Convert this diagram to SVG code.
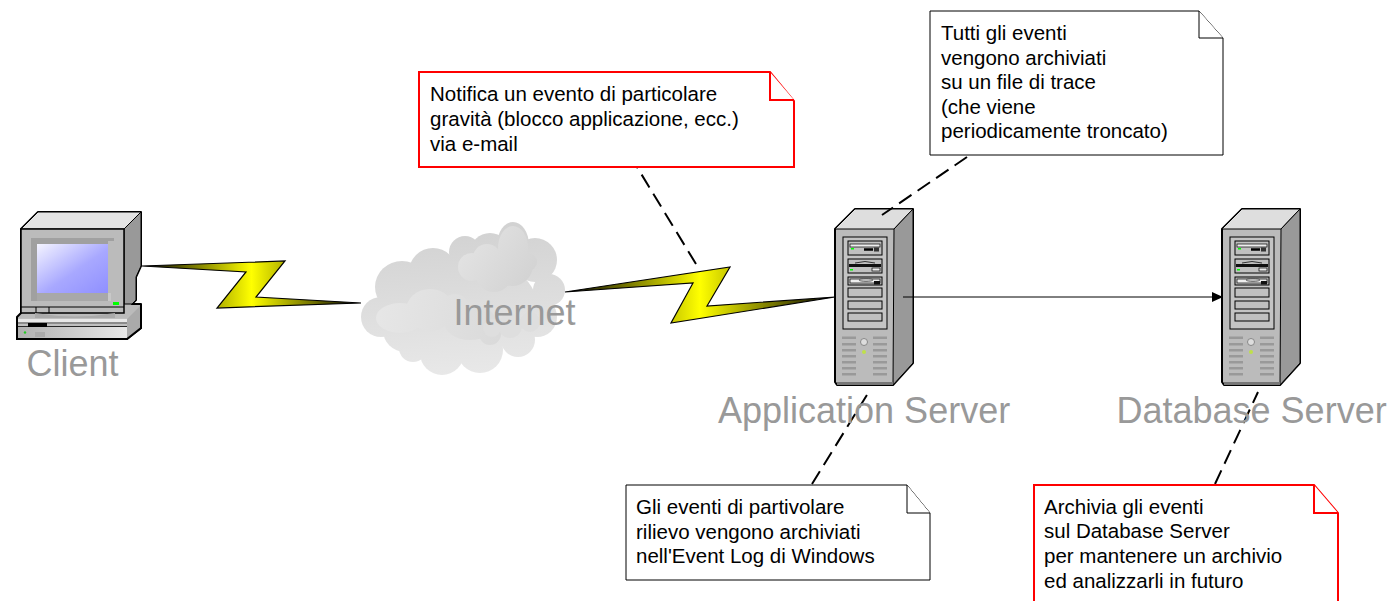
<svg xmlns="http://www.w3.org/2000/svg" xmlns:xlink="http://www.w3.org/1999/xlink" width="1391" height="601" viewBox="0 0 1391 601">
<style>
text{font-family:"Liberation Sans",Arial,sans-serif}
.lab{font-size:36px;fill:#999}
.nt{font-size:20.5px;fill:#000}
.note{fill:#fff;stroke:#000;stroke-width:1}
.red{stroke:#f00;stroke-width:2}
.dash{fill:none;stroke:#000;stroke-width:2;stroke-dasharray:15 7.4}
.bolt{fill:url(#boltG);stroke:#000;stroke-width:1.2;stroke-linejoin:miter}
.bay{fill:#c0c0c0;stroke:#000;stroke-width:1}
.vent{fill:#999}
</style>
<defs>
<linearGradient id="boltG" x1="0" x2="1" y1="0" y2="0"><stop offset="0" stop-color="#000"/><stop offset=".5" stop-color="#ff0"/><stop offset="1" stop-color="#000"/></linearGradient>
<linearGradient id="scr" x1="0" y1="0" x2="1" y2="1"><stop offset="0" stop-color="#f4f4ff"/><stop offset=".55" stop-color="#a8a8ff"/><stop offset="1" stop-color="#8f8fff"/></linearGradient>
<linearGradient id="base" x1="0" x2="1" y1="0" y2="0"><stop offset="0" stop-color="#b0b0b0"/><stop offset="1" stop-color="#e8e8e8"/></linearGradient>
<linearGradient id="clB" gradientUnits="userSpaceOnUse" x1="440" y1="230" x2="450" y2="375"><stop offset="0" stop-color="#d2d2d2"/><stop offset="1" stop-color="#e8e8e8"/></linearGradient>
<linearGradient id="clF" gradientUnits="userSpaceOnUse" x1="380" y1="310" x2="500" y2="330"><stop offset="0" stop-color="#e6e6e6"/><stop offset="1" stop-color="#dadada"/></linearGradient>
<linearGradient id="clT" gradientUnits="userSpaceOnUse" x1="465" y1="230" x2="535" y2="280"><stop offset="0" stop-color="#e4e4e4"/><stop offset="1" stop-color="#d2d2d2"/></linearGradient>
<g id="srv">
<path d="M835 229L855 209H913V363L893 385H837L835 382Z" fill="#bbb" stroke="#000" stroke-width="2" stroke-linejoin="round"/>
<path d="M835 229L855 209H913L894 229Z" fill="#dedede" stroke="#000" stroke-width="1"/>
<path d="M894 229L913 209V363L893 385Z" fill="#999" stroke="#000" stroke-width="1"/>
<path d="M837 382H893V385H837Z" fill="#777"/>
<rect x="843" y="237" width="44" height="92" fill="#c4c4c4" stroke="#000"/>
<rect x="848" y="241" width="34" height="14" class="bay" stroke-width="1.4"/>
<rect x="850" y="244" width="30" height="3" fill="#eee" stroke="#000" stroke-width=".7"/>
<path d="M864 249.500H873" stroke="#000" stroke-width="2.500"/><rect x="874" y="247.500" width="5" height="4" fill="#333"/><rect x="851" y="248" width="3" height="1.500" fill="#0f0"/>
<rect x="848" y="259" width="34" height="14" class="bay" stroke-width="1.4"/>
<rect x="849" y="264" width="32" height="3" fill="#111"/><path d="M855 263Q865 260 875 263" fill="none" stroke="#333"/><rect x="872" y="268" width="8" height="3" fill="#eee" stroke="#000" stroke-width=".7"/><rect x="850" y="269" width="3" height="1.500" fill="#0f0"/>
<rect x="848" y="277" width="34" height="8" class="bay" stroke-width="1.4"/>
<rect x="850" y="279" width="30" height="4" fill="#eee" stroke="#000" stroke-width=".7"/><ellipse cx="866" cy="280" rx="7" ry="1.500" fill="#bbb" stroke="#333" stroke-width=".6"/><rect x="874" y="281" width="6" height="3.500" fill="#111"/>
<rect x="848" y="288" width="34" height="9" class="bay"/>
<rect x="848" y="301" width="34" height="8" class="bay"/>
<rect x="848" y="313" width="34" height="8" class="bay"/>
<g class="vent">
<rect x="842" y="336.500" width="14" height="2.500"/><rect x="842" y="343" width="14" height="2.500"/><rect x="842" y="349" width="14" height="2.500"/><rect x="842" y="355" width="14" height="2.500"/><rect x="842" y="361" width="14" height="2.500"/><rect x="842" y="367" width="14" height="2.500"/><rect x="842" y="373" width="14" height="2.500"/>
<rect x="873" y="336.500" width="14" height="2.500"/><rect x="873" y="343" width="14" height="2.500"/><rect x="873" y="349" width="14" height="2.500"/><rect x="873" y="355" width="14" height="2.500"/><rect x="873" y="361" width="14" height="2.500"/><rect x="873" y="367" width="14" height="2.500"/><rect x="873" y="373" width="14" height="2.500"/>
</g>
<circle cx="864" cy="342" r="3.500" fill="#ddd" stroke="#888"/>
<circle cx="864" cy="352" r="2" fill="#bfe04a"/>
</g>
<marker id="arr" markerWidth="11" markerHeight="10" refX="10" refY="5" orient="auto" markerUnits="userSpaceOnUse"><path d="M0 0L11 5L0 10Z" fill="#000"/></marker>
</defs>

<g id="cloud">
<g fill="url(#clB)">
<ellipse cx="402" cy="287" rx="27" ry="26"/><circle cx="433" cy="272" r="24"/><circle cx="465" cy="252" r="16"/><circle cx="490" cy="253" r="20"/>
<ellipse cx="513" cy="245" rx="16" ry="23"/><circle cx="535" cy="260" r="22"/><circle cx="549" cy="290" r="16"/><circle cx="537" cy="317" r="20"/>
<circle cx="518" cy="340" r="17"/><circle cx="480" cy="350" r="23"/><circle cx="442" cy="353" r="22"/><circle cx="413" cy="348" r="14"/><circle cx="381" cy="317" r="20"/><circle cx="405" cy="330" r="22"/>
<ellipse cx="465" cy="305" rx="72" ry="48"/>
</g>
<g fill="url(#clF)">
<ellipse cx="400" cy="318" rx="24" ry="15"/><ellipse cx="430" cy="310" rx="24" ry="21"/><circle cx="455" cy="308" r="14"/><ellipse cx="470" cy="322" rx="26" ry="18"/><circle cx="490" cy="334" r="11"/>
</g>
<g fill="url(#clT)">
<circle cx="472" cy="267" r="14"/><circle cx="487" cy="258" r="14"/><ellipse cx="513" cy="248" rx="15" ry="22"/><circle cx="512" cy="265" r="21"/><circle cx="528" cy="262" r="9"/><circle cx="494" cy="274" r="18"/>
</g>
<g fill="#dedede">
<circle cx="510" cy="326" r="12"/><circle cx="530" cy="322" r="10"/><circle cx="492" cy="328" r="9"/>
</g>
</g>

<g id="client">
<path d="M21 229L38 212H141V266L136 277V300L132 304H141V328L127 339H17V317L21 313Z" fill="#bbb" stroke="#000" stroke-width="2" stroke-linejoin="round"/>
<path d="M21 229L38 212H141L124 229Z" fill="#e4e4e4" stroke="#000" stroke-width="1"/>
<path d="M124 229L141 212V266L136 277V300L132 304H124Z" fill="#999" stroke="#000" stroke-width="1"/>
<rect x="21" y="229" width="103" height="84" fill="#bbb" stroke="#000" stroke-width="1.500"/>
<path d="M31 238H114V241H108V293H37V301H31Z" fill="#a0a0a0"/><path d="M37 293H111V301H37Z" fill="#c8c8c8"/><path d="M31 301H37V293H108V301Z" fill="#a8a8a8"/>
<rect x="37" y="244" width="71" height="49" fill="url(#scr)"/>
<rect x="113" y="302" width="6" height="3" fill="#0f0"/>
<path d="M21 307H124M36 307V313M49 307V313" stroke="#000" fill="none"/>
<path d="M17 318H127L141 305V328L127 339H17Z" fill="#c0c0c0"/>
<path d="M127 319L140 306V328L127 338Z" fill="#aaa"/>
<path d="M35 313Q75 320 115 313V318H35Z" fill="#aaa"/>
<rect x="18" y="319" width="109" height="5" fill="#e8e8e8"/>
<rect x="18" y="327" width="109" height="11" fill="url(#base)"/>
<path d="M18 323H127M18 326.500H127" stroke="#000" stroke-width=".8"/>
<rect x="28" y="323" width="19" height="4" fill="#000"/>
<rect x="35" y="332" width="10" height="5" fill="#aaa"/>
<circle cx="25" cy="332.500" r="1.200" fill="#2c2"/>
<path d="M17 317V339H127L141 328V305" fill="none" stroke="#000" stroke-width="2"/>
</g>
<text class="lab" x="26.500" y="376">Client</text>

<g id="app-server"><use xlink:href="#srv" href="#srv"/></g>
<g id="db-server"><use xlink:href="#srv" href="#srv" x="387"/></g>

<g id="connectors">
<path class="bolt" d="M142 266L285 261L256 297L361 303L217 308L246 272Z"/>
<path class="bolt" d="M565 292L730 267L707 306L835 297L671 323L693 283Z"/>
<line x1="903" y1="297" x2="1222" y2="297" stroke="#000" stroke-width="1" marker-end="url(#arr)"/>
<path class="dash" d="M696 264L637 167"/>
<path class="dash" d="M967 157L882 215"/>
<path class="dash" d="M812 484L870 390"/>
<path class="dash" d="M1215 484L1258 392"/>
</g>

<text class="lab" x="453.500" y="325">Internet</text>
<text class="lab" x="718" y="423">Application Server</text>
<text class="lab" x="1116.500" y="423">Database Server</text>

<g id="note-email">
<path class="note red" d="M419 72H770L794 101V167H419Z"/><path class="note red" d="M770 72V100H794" fill="none"/>
<text class="nt" x="430" y="100.500">Notifica un evento di particolare</text>
<text class="nt" x="430" y="125.500">gravità (blocco applicazione, ecc.)</text>
<text class="nt" x="430" y="150.500">via e-mail</text>
</g>
<g id="note-trace">
<path class="note" d="M930 11H1199L1223 38V155H930Z"/><path class="note" d="M1199 11V38H1223" fill="none" stroke-width="1.500"/>
<text class="nt" x="941" y="40">Tutti gli eventi</text>
<text class="nt" x="941" y="64.500">vengono archiviati</text>
<text class="nt" x="941" y="89">su un file di trace</text>
<text class="nt" x="941" y="113.500">(che viene</text>
<text class="nt" x="941" y="138">periodicamente troncato)</text>
</g>
<g id="note-eventlog">
<path class="note" d="M626 485H907L930 513V580H626Z"/><path class="note" d="M907 485V513H930" fill="none"/>
<text class="nt" x="636" y="514">Gli eventi di partivolare</text>
<text class="nt" x="636" y="538.500">rilievo vengono archiviati</text>
<text class="nt" x="636" y="563">nell'Event Log di Windows</text>
</g>
<g id="note-db">
<path class="note red" d="M1034 485H1314L1338 513V610H1034Z"/><path class="note red" d="M1314 485V513H1338" fill="none"/>
<text class="nt" x="1044" y="514">Archivia gli eventi</text>
<text class="nt" x="1044" y="538">sul Database Server</text>
<text class="nt" x="1044" y="563">per mantenere un archivio</text>
<text class="nt" x="1044" y="587.500">ed analizzarli in futuro</text>
</g>
</svg>
